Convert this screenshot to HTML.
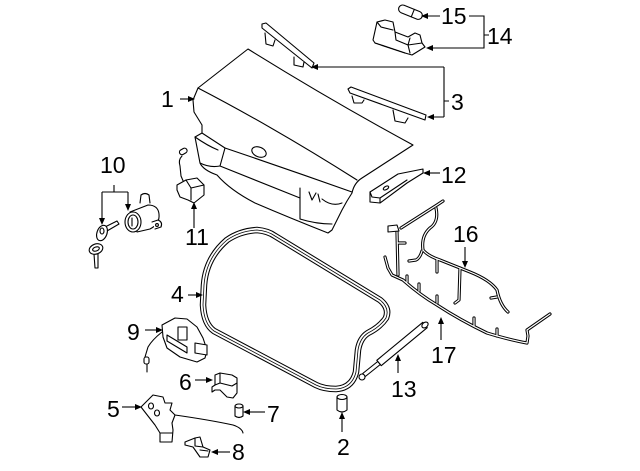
<!DOCTYPE html>
<html><head><meta charset="utf-8"><style>
html,body{margin:0;padding:0;background:#fff;}
svg{display:block;}
text{font-family:"Liberation Sans",Arial,sans-serif;font-size:23px;fill:#000;}
</style></head><body>
<svg width="640" height="471" viewBox="0 0 640 471" xmlns="http://www.w3.org/2000/svg">
<rect width="640" height="471" fill="#fff"/>
<g fill="#fff" stroke="#000" stroke-width="1.1" stroke-linejoin="round" stroke-linecap="round">
<!-- Part 1 trunk lid -->
<path d="M248,49 Q330,100 413,145 L362,178 Q354,183 352,193 L347,201 L342,210 L332,230 L328,233 Q290,218 255,203 Q230,190 217,175 Q203,170 200,163 L195,137 L202,133 L202,125 L194,112 L193,100 L198,88 Z"/>
<path fill="none" d="M198,88 Q275,128 357,180"/>
<path fill="none" d="M202,133 L225,148 Q290,170 352,192"/>
<path fill="none" d="M195,137 Q208,146 218,150"/>
<path fill="none" d="M225,148 L220,166 Q260,182 300,198"/>
<path fill="none" d="M200,163 Q210,168 220,166"/>
<path fill="none" d="M300,188 L300,219 Q316,224 332,224"/>
<path fill="none" d="M309,192 L312,200 L316,193 M318,194 L320,202 M322,199 Q332,207 342,203"/>
<ellipse cx="259" cy="152" rx="7.5" ry="4.8" transform="rotate(22 259 152)"/>
<!-- Part 3 strips -->
<path d="M262,24 L266,23 L314,63 L312,68 L262,28 Z"/>
<path d="M265,33 L266,44 L273,46 L275,40"/>
<path d="M294,57 L294,65 L303,67 L304,62"/>
<path d="M348,89 L351,87 L426,115 L425,120 L350,93 Z"/>
<path d="M352,96 L354,103 L362,103 L364,100"/>
<path d="M393,110 L395,121 L405,123 L408,118"/>
<!-- Part 14 housing -->
<path d="M375,43 L373,40 L377,22 L385,20 L393,22 L395,32 L408,37 L415,33 L420,35 L422,43 L425,47 L412,55 L405,53 Z"/>
<path fill="none" d="M377,22 L381,27 L393,30 M395,32 L396,40 L408,45 L410,38 M408,45 L410,53 M375,43 L405,53 M408,45 L422,43"/>
<!-- Part 15 bulb -->
<g transform="rotate(22 410 12)"><rect x="398" y="8" width="25" height="8" rx="4"/><line x1="413" y1="8" x2="413" y2="16"/></g>
<!-- Part 12 -->
<path d="M370,192 L398,174 L423,169 L423,173 L407,183 L380,203 L370,202 Z"/>
<path fill="none" d="M370,192 L372,197 L380,198 L407,180 M380,198 L380,203"/>
<ellipse cx="386" cy="188" rx="3" ry="1.6" transform="rotate(-30 386 188)"/>
<!-- Part 11 -->
<path fill="none" d="M182,156 Q178,160 180,166 L181,176 L184,183"/>
<rect x="179" y="149" width="8" height="5" rx="2.5" transform="rotate(-30 183 151)"/>
<path d="M177,185 L186,180 L197,178 L204,185 L204,195 L194,203 L188,200 L180,197 L177,190 Z"/>
<path fill="none" d="M186,180 L191,188 L204,185 M191,188 L191,200"/>
<!-- Part 10 lock -->
<path d="M130,212 L148,205 Q158,205 159,214 Q160,224 150,229 L137,232 Z"/>
<path d="M140,203 L141,195 Q145,192 149,195 L150,203"/>
<path d="M152,222 L158,220 Q163,222 161,227 L155,229"/>
<circle cx="157" cy="225" r="1.4"/>
<ellipse cx="133" cy="222" rx="8" ry="10"/>
<ellipse cx="133" cy="222" rx="5" ry="7"/>
<line x1="132" y1="218" x2="132" y2="226"/>
<!-- keys -->
<path d="M105,227 L117,221 L119,224 L107,231 Z"/>
<ellipse cx="102" cy="233" rx="5" ry="8" transform="rotate(20 102 233)"/>
<ellipse cx="102" cy="231" rx="2" ry="3"/>
<path d="M94,254 L95,268 L98,268 L98,254 Z"/>
<ellipse cx="96" cy="249" rx="7" ry="5" transform="rotate(-20 96 249)"/>
<ellipse cx="96" cy="249" rx="3.5" ry="2" transform="rotate(-20 96 249)"/>
<!-- Part 9 -->
<path d="M162,325 L175,318 L187,319 L197,327 L203,338 L207,350 L205,358 L197,362 L180,357 L167,348 L163,337 Z"/>
<path d="M167,335 L187,347 L187,353 L167,341 Z"/>
<path d="M178,327 L187,327 L187,340 L178,340 Z"/>
<path d="M195,343 L207,345 L207,355 L195,353 Z"/>
<path fill="none" d="M162,332 Q152,340 148,347 L145,357"/>
<rect x="144" y="357" width="5" height="7" rx="2"/>
<line x1="147" y1="364" x2="147" y2="372"/>
<!-- Part 6 -->
<path d="M215,375 L220,373 L232,375 L237,378 L237,393 L233,398 L227,397 L220,390 L215,390 L212,392 L212,387 L215,385 Z"/>
<path fill="none" d="M215,385 L220,383 L232,386 L237,383 M220,373 L220,383"/>
<!-- Part 7 -->
<path d="M235,406 L235,416 Q239,419 243,416 L243,406"/>
<ellipse cx="239" cy="406" rx="4" ry="2"/>
<!-- Part 5 -->
<path fill="none" d="M175,415 Q210,420 233,425 Q242,428 243,433"/>
<path d="M141,407 L153,395 L158,396 L163,397 L165,403 L172,403 L170,410 L175,415 L172,423 L173,430 L172,442 L160,442 L160,433 L155,425 Z"/>
<ellipse cx="151" cy="406" rx="2.5" ry="3"/>
<ellipse cx="157" cy="413" rx="2.5" ry="3"/>
<path fill="none" d="M160,433 L172,433"/>
<!-- Part 8 -->
<path d="M185,442 L195,438 L200,437 L203,447 L210,450 L208,457 L200,457 L193,447 L185,445 Z"/>
<path fill="none" d="M195,438 L195,446 L203,447 M200,450 L208,451"/>
<!-- Part 2 -->
<path d="M337,397 L337,410 Q342,414 347,410 L347,397"/>
<ellipse cx="342" cy="397" rx="5" ry="2.5"/>
<!-- Part 13 strut -->
<path d="M427.2,327.7 L422.8,322.3 L376.8,360.3 L381.2,365.7 Z"/>
<ellipse cx="425" cy="325" rx="2.5" ry="3.5" transform="rotate(50 425 325)"/>
<path d="M380.3,364.5 L377.7,361.5 L362.7,373.5 L365.3,376.5 Z"/>
<circle cx="362" cy="377" r="3"/>
</g>
<!-- Part 4 seal -->
<g fill="none" stroke-linejoin="round">
<path stroke="#000" stroke-width="6.5" d="M227,240 Q240,231 257,230 Q268,231 275,236 L380,300 Q390,308 386,318 Q380,327 368,333 Q360,338 358,350 L356,372 Q352,388 336,389 Q324,389 316,385 L214,331 Q204,324 203,305 L204,285 Q206,258 227,240 Z"/>
<path stroke="#fff" stroke-width="4.4" d="M227,240 Q240,231 257,230 Q268,231 275,236 L380,300 Q390,308 386,318 Q380,327 368,333 Q360,338 358,350 L356,372 Q352,388 336,389 Q324,389 316,385 L214,331 Q204,324 203,305 L204,285 Q206,258 227,240 Z"/>
<path stroke="#000" stroke-width="0.8" d="M227,240 Q240,231 257,230 Q268,231 275,236 L380,300 Q390,308 386,318 Q380,327 368,333 Q360,338 358,350 L356,372 Q352,388 336,389 Q324,389 316,385 L214,331 Q204,324 203,305 L204,285 Q206,258 227,240 Z"/>
</g>
<!-- Harness 16/17 -->
<g fill="none" stroke-linejoin="round" stroke-linecap="round">
<g stroke="#000" stroke-width="3.2">
<path d="M443,201 L437,205 L401,228"/>
<path d="M436,208 Q439,222 430,228 Q421,236 423,250 Q428,256 440,260 L470,272 Q490,280 497,290 Q500,305 508,312"/>
<path d="M422,251 Q420,258 416,260 L409,261"/>
<path d="M437,259 L437,272 M460,268 L459,300 L455,303 M497,297 L491,298"/>
<path d="M397,232 L398,275"/>
<path d="M385,257 L388,268 L392,275 L403,280 Q420,295 437,305 Q460,320 487,333 Q510,340 527,343 L528,336 L527,330 L550,314"/>
<path d="M407,276 L407,282 M419,284 L419,291 M437,296 L437,303 M474,318 L474,326 M497,329 L497,336 M398,243 L405,243"/>
</g>
<g stroke="#fff" stroke-width="1.2">
<path d="M443,201 L437,205 L401,228"/>
<path d="M436,208 Q439,222 430,228 Q421,236 423,250 Q428,256 440,260 L470,272 Q490,280 497,290 Q500,305 508,312"/>
<path d="M422,251 Q420,258 416,260 L409,261"/>
<path d="M437,259 L437,272 M460,268 L459,300 L455,303 M497,297 L491,298"/>
<path d="M397,232 L398,275"/>
<path d="M385,257 L388,268 L392,275 L403,280 Q420,295 437,305 Q460,320 487,333 Q510,340 527,343 L528,336 L527,330 L550,314"/>
<path d="M407,276 L407,282 M419,284 L419,291 M437,296 L437,303 M474,318 L474,326 M497,329 L497,336 M398,243 L405,243"/>
</g>
<path d="M388,226 L397,225 L399,231 L388,232 Z" fill="#fff" stroke="#000" stroke-width="1.1"/>
</g>
<!-- Leader lines -->
<g stroke="#000" stroke-width="1.1" fill="none">
<path d="M180,99 H189"/>
<path d="M444,67 V117 M444,67 H318 M444,117 H433 M444,101 H449"/>
<path d="M440,16 H427 M469,16 H484 V48 H432 M484,35 H489"/>
<path d="M440,173 H429"/>
<path d="M114,185 V192 M102,192 H128 M102,192 V218 M128,192 V204"/>
<path d="M194,228 V209"/>
<path d="M188,295 H197"/>
<path d="M465,247 V261"/>
<path d="M441,340 V324"/>
<path d="M398,373 V361"/>
<path d="M145,330 H157"/>
<path d="M195,380 H207"/>
<path d="M122,407 H136"/>
<path d="M265,412 H249"/>
<path d="M230,452 H217"/>
<path d="M342,432 V419"/>
</g>
<g fill="#000">
<polygon points="195,99 188,96 188,102"/>
<polygon points="311,67 318,64 318,70"/>
<polygon points="427,117 434,114 434,120"/>
<polygon points="421,16 428,13 428,19"/>
<polygon points="426,48 433,45 433,51"/>
<polygon points="423,173 430,170 430,176"/>
<polygon points="102,225 99,218 105,218"/>
<polygon points="128,211 125,204 131,204"/>
<polygon points="194,202 191,209 197,209"/>
<polygon points="203,295 196,292 196,298"/>
<polygon points="465,268 462,261 468,261"/>
<polygon points="441,317 438,324 444,324"/>
<polygon points="398,354 395,361 401,361"/>
<polygon points="163,330 156,327 156,333"/>
<polygon points="213,380 206,377 206,383"/>
<polygon points="142,407 135,404 135,410"/>
<polygon points="243,412 250,409 250,415"/>
<polygon points="211,452 218,449 218,455"/>
<polygon points="342,412 339,419 345,419"/>
</g>
<!-- Labels -->
<text x="161" y="107">1</text>
<text x="451" y="110">3</text>
<text x="441" y="24">15</text>
<text x="487" y="44">14</text>
<text x="441" y="183">12</text>
<text x="100" y="173">10</text>
<text x="185" y="245">11</text>
<text x="453" y="242">16</text>
<text x="171" y="302">4</text>
<text x="127" y="340">9</text>
<text x="431" y="363">17</text>
<text x="391" y="397">13</text>
<text x="179" y="390">6</text>
<text x="107" y="417">5</text>
<text x="267" y="422">7</text>
<text x="337" y="455">2</text>
<text x="232" y="460">8</text>
</svg>
</body></html>
